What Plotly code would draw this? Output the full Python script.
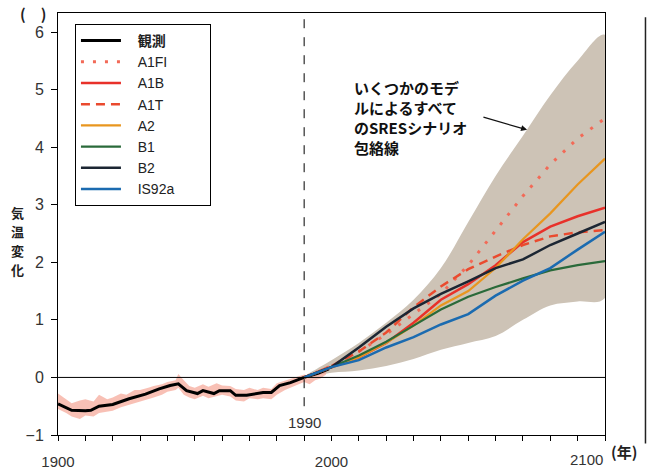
import plotly.graph_objects as go

# ---------------- data ----------------
obs_years = [1900, 1901, 1905, 1910, 1912, 1915, 1920, 1926, 1932, 1937, 1941, 1944, 1947, 1951,
             1953, 1957, 1959, 1963, 1965, 1969, 1975, 1978, 1981, 1985, 1990, 1995, 1999]
obs_vals = [-0.46, -0.48, -0.57, -0.58, -0.57, -0.50, -0.47, -0.37, -0.29, -0.20, -0.14, -0.11, -0.23, -0.28,
            -0.23, -0.28, -0.23, -0.23, -0.31, -0.31, -0.26, -0.26, -0.14, -0.09, 0.00, 0.07, 0.15]

band_years = [1900, 1903, 1905, 1908, 1910, 1913, 1915, 1918, 1920, 1923, 1925, 1928, 1930, 1933, 1935,
              1938, 1940, 1943, 1944, 1946, 1948, 1950, 1953, 1955, 1958, 1960, 1963, 1965, 1968, 1970,
              1973, 1975, 1978, 1980, 1983, 1985, 1988, 1990, 1992, 1994, 1996, 1998]
band_upper = [-0.28, -0.38, -0.45, -0.40, -0.38, -0.42, -0.30, -0.38, -0.35, -0.28, -0.30, -0.22, -0.22, -0.18, -0.15,
              -0.12, -0.08, -0.05, 0.06, -0.05, -0.15, -0.18, -0.12, -0.16, -0.10, -0.14, -0.15, -0.20, -0.22, -0.18,
              -0.22, -0.18, -0.20, -0.10, -0.05, -0.02, 0.02, 0.05, 0.02, 0.08, 0.12, 0.18]
band_lower = [-0.55, -0.62, -0.68, -0.72, -0.66, -0.68, -0.62, -0.60, -0.58, -0.52, -0.50, -0.45, -0.42, -0.38, -0.35,
              -0.30, -0.25, -0.22, -0.18, -0.30, -0.35, -0.38, -0.32, -0.36, -0.32, -0.30, -0.33, -0.40, -0.42, -0.36,
              -0.38, -0.36, -0.38, -0.30, -0.22, -0.18, -0.12, -0.08, -0.12, -0.05, -0.02, 0.05]

proj_years = [1990, 2000, 2010, 2020, 2030, 2040, 2050, 2060, 2070, 2080, 2090, 2100]
env_upper = [0.00, 0.30, 0.60, 0.95, 1.35, 1.90, 2.70, 3.50, 4.20, 4.90, 5.50, 5.95]
env_lower = [0.00, 0.08, 0.12, 0.20, 0.32, 0.48, 0.60, 0.72, 1.00, 1.25, 1.32, 1.38]

A1FI = [0.00, 0.20, 0.45, 0.75, 1.10, 1.45, 1.95, 2.55, 3.15, 3.70, 4.15, 4.50]
A1B = [0.00, 0.18, 0.35, 0.60, 0.95, 1.35, 1.62, 1.95, 2.35, 2.62, 2.80, 2.95]
A1T = [0.00, 0.20, 0.45, 0.78, 1.22, 1.58, 1.88, 2.10, 2.30, 2.45, 2.52, 2.56]
A2 = [0.00, 0.18, 0.35, 0.60, 0.90, 1.25, 1.50, 1.90, 2.40, 2.85, 3.35, 3.80]
B1 = [0.00, 0.18, 0.38, 0.62, 0.90, 1.18, 1.40, 1.57, 1.72, 1.86, 1.95, 2.02]
B2 = [0.00, 0.18, 0.52, 0.88, 1.20, 1.45, 1.67, 1.90, 2.05, 2.30, 2.50, 2.70]
IS92a = [0.00, 0.18, 0.30, 0.52, 0.70, 0.92, 1.10, 1.42, 1.68, 1.90, 2.22, 2.53]

y_ticks = [-1, 0, 1, 2, 3, 4, 5, 6]
x_tick_vals = list(range(1900, 2101, 10))
x_tick_text = ["1900" if v == 1900 else "2000" if v == 2000 else "" for v in x_tick_vals]

ytitle_chars = ["気", "温", "変", "化"]
ytitle_pos = [2.87, 2.54, 2.21, 1.88]

note_lines = ["いくつかのモデ", "ルによるすべて", "のSRESシナリオ", "包絡線"]
note_pos = [5.04, 4.69, 4.34, 3.99]

FONT = "Liberation Sans, Arial, Noto Sans CJK JP, sans-serif"
CJK = "Noto Sans CJK JP, sans-serif"
NB = "\u00a0"

fig = go.Figure()

# envelope
fig.add_trace(go.Scatter(x=proj_years + proj_years[::-1], y=env_upper + env_lower[::-1],
                         fill="toself", fillcolor="#cdc3b6", line=dict(width=0, shape="spline"),
                         mode="lines", showlegend=False, hoverinfo="skip"))
# observed annual band
fig.add_trace(go.Scatter(x=band_years + band_years[::-1], y=band_upper + band_lower[::-1],
                         fill="toself", fillcolor="rgba(245,165,150,0.7)", line=dict(width=0),
                         mode="lines", showlegend=False, hoverinfo="skip"))

fig.add_trace(go.Scatter(x=obs_years, y=obs_vals, mode="lines",
                         name=NB * 3 + "<b>観測</b>" + NB * 10,
                         line=dict(color="black", width=3)))
series = [
    ("A1FI", A1FI, "#f26a57", "3px,9px", 3),
    ("A1B", A1B, "#e8312a", "solid", 2.5),
    ("A1T", A1T, "#ea4a2e", "9px,6px", 2.5),
    ("A2", A2, "#e8961f", "solid", 2.2),
    ("B1", B1, "#2a6a3a", "solid", 2.2),
    ("B2", B2, "#1c2633", "solid", 2.5),
    ("IS92a", IS92a, "#1b6bb0", "solid", 2.5),
]
for name, vals, col, dash, w in series:
    fig.add_trace(go.Scatter(x=proj_years, y=vals, mode="lines", name=NB * 3 + name,
                             line=dict(color=col, width=w, dash=dash)))

# zero line
fig.add_shape(type="line", xref="x", yref="y", x0=1900, x1=2100, y0=0, y1=0,
              line=dict(color="black", width=1))
# 1990 dashed line
fig.add_shape(type="line", xref="x", yref="y", x0=1990, x1=1990, y0=-0.5, y1=6.33,
              line=dict(color="black", width=1, dash="dash"))
# right-hand panel edge
fig.add_shape(type="line", xref="paper", yref="paper", x0=1.074, x1=1.074, y0=-0.02, y1=0.99,
              line=dict(color="#222", width=1.5))

fig.add_annotation(x=1990, y=-0.78, xref="x", yref="y", text="1990", showarrow=False,
                   font=dict(family=FONT, size=15, color="#333"))
fig.add_annotation(x=2100, y=-1, xref="x", yref="y", yshift=-35, xanchor="right", yanchor="bottom",
                   text="2100", showarrow=False, font=dict(family=FONT, size=15, color="#333"))
fig.add_annotation(x=1.0, y=-1, xref="paper", yref="y", xshift=4, yshift=-16, xanchor="left",
                   text="<b>(年)</b>", showarrow=False, font=dict(family=CJK, size=15, color="#222"))
fig.add_annotation(x=0, y=1, xref="paper", yref="paper", xshift=-40, yshift=0, xanchor="left",
                   yanchor="middle", text="<b>(　)</b>", showarrow=False,
                   font=dict(family=CJK, size=15, color="#222"))
for ch, yp in zip(ytitle_chars, ytitle_pos):
    fig.add_annotation(x=0, y=yp, xref="paper", yref="y", xshift=-41, xanchor="center",
                       yanchor="middle", text="<b>" + ch + "</b>", showarrow=False,
                       font=dict(family=CJK, size=13, color="#222"))
for line, yp in zip(note_lines, note_pos):
    fig.add_annotation(x=2007.5, y=yp, xref="x", yref="y", xanchor="left", yanchor="middle",
                       text="<b>" + line + "</b>", showarrow=False,
                       font=dict(family=CJK, size=15, color="#111"))
fig.add_annotation(x=2071.5, y=4.3, ax=2055, ay=4.53, xref="x", yref="y", axref="x", ayref="y",
                   text="", showarrow=True, arrowhead=2, arrowsize=1, arrowwidth=1.2, arrowcolor="#111")

fig.update_layout(
    width=647, height=469,
    margin=dict(l=58, r=42, t=13, b=34, autoexpand=False),
    paper_bgcolor="white", plot_bgcolor="white",
    font=dict(family=FONT, size=15, color="#333"),
    legend=dict(x=0.031, y=0.974, xanchor="left", yanchor="top",
                bordercolor="black", borderwidth=1, bgcolor="white",
                font=dict(family=FONT, size=14, color="#222"),
                tracegroupgap=0, itemwidth=40),
    xaxis=dict(range=[1900, 2100], tickvals=x_tick_vals, ticktext=x_tick_text,
               ticks="outside", ticklen=5, tickcolor="black", showgrid=False, zeroline=False,
               showline=True, linecolor="black", linewidth=1, mirror=True, automargin=False,
               ticklabelstandoff=8,
               tickfont=dict(family=FONT, size=15, color="#333")),
    yaxis=dict(range=[-1, 6.33], tickvals=y_ticks, ticks="outside", ticklen=6, tickcolor="black",
               showgrid=False, zeroline=False, showline=True, linecolor="black", linewidth=1,
               mirror=True, automargin=False, ticklabelstandoff=4,
               tickfont=dict(family=FONT, size=16, color="#333")),
)

fig.write_html("out.html", config={"displayModeBar": False},
               post_script="document.body.style.margin='0';")
